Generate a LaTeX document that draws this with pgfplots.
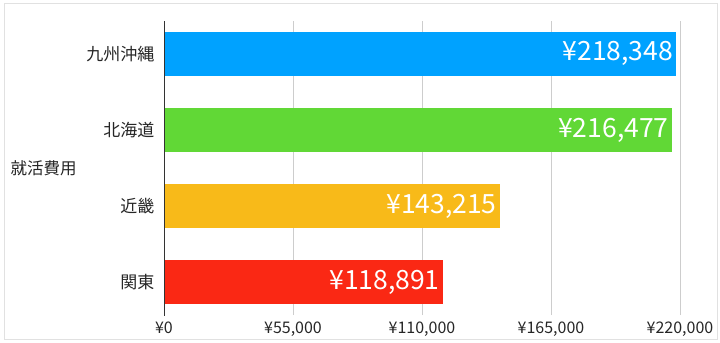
\documentclass[border=0pt]{standalone}
\usepackage{fontspec}
\setmainfont{Noto Sans CJK JP}
\usepackage{pgfplots}
\pgfplotsset{compat=1.18}
\definecolor{cblue}{RGB}{0,162,255}
\definecolor{cgreen}{RGB}{97,216,54}
\definecolor{corange}{RGB}{248,186,25}
\definecolor{cred}{RGB}{250,40,20}
\definecolor{gridgray}{RGB}{205,205,205}
\definecolor{framegray}{RGB}{225,225,225}
\begin{document}
\begin{tikzpicture}
\useasboundingbox (-164bp,-28bp) rectangle (556bp,315bp);
\draw[framegray, line width=0.8bp] (-160bp,-24bp) rectangle (553bp,312bp);
\begin{axis}[
  scale only axis,
  width=516bp, height=294bp,
  xmin=0, xmax=220000,
  ymin=-0.43, ymax=3.43,
  xbar, bar width=44bp, bar shift=0pt,
  axis line style={draw=none},
  major tick length=0pt,
  scaled x ticks=false,
  xtick={0,55000,110000,165000,220000},
  xticklabels={{¥0},{¥55,000},{¥110,000},{¥165,000},{¥220,000}},
  ytick={0,1,2,3},
  yticklabels={関東,近畿,北海道,九州沖縄},
  xmajorgrids, grid style={gridgray, line width=0.7bp},
  xticklabel style={font=\fontsize{16bp}{19bp}\selectfont, text=black!85, yshift=-3bp},
  yticklabel style={font=\fontsize{17bp}{20bp}\selectfont, text=black!85, xshift=-6bp},
  ylabel={就活費用},
  ylabel style={rotate=-90, anchor=west, font=\fontsize{16.5bp}{20bp}\selectfont, text=black!85, at={(axis description cs:-0.304,0.5)}},
  /pgf/number format/assume math mode=true,
  point meta=x,
  nodes near coords={¥\pgfmathprintnumber[fixed,precision=0,1000 sep={,}]{\pgfplotspointmeta}},
  nodes near coords style={anchor=east, xshift=-1bp, text=white, font=\fontsize{26.5bp}{30bp}\selectfont, inner sep=2bp},
]
\addplot[fill=cred, draw=none] coordinates {(118891,0)};
\addplot[fill=corange, draw=none] coordinates {(143215,1)};
\addplot[fill=cgreen, draw=none] coordinates {(216477,2)};
\addplot[fill=cblue, draw=none] coordinates {(218348,3)};
\draw[black!80, line width=0.8bp] (axis cs:0,-0.45) -- (axis cs:0,3.43);
\end{axis}
\end{tikzpicture}
\end{document}
